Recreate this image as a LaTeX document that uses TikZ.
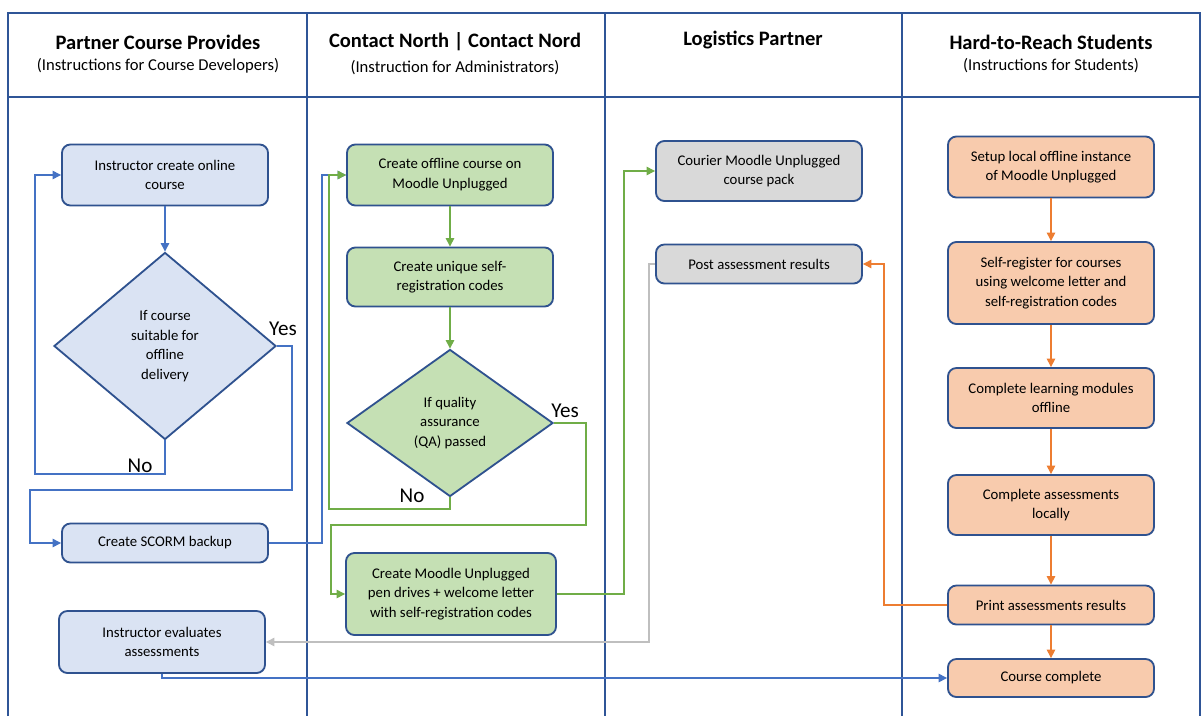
\documentclass[tikz,border=0pt]{standalone}
\usepackage{fontspec}
\setmainfont{Carlito}
\usetikzlibrary{arrows.meta,shapes.geometric,positioning}

\definecolor{laneblue}{HTML}{2F5597}
\definecolor{boxedge}{HTML}{2F528F}
\definecolor{fillblue}{HTML}{DAE3F3}
\definecolor{fillgreen}{HTML}{C5E0B4}
\definecolor{fillgrey}{HTML}{D9D9D9}
\definecolor{fillorange}{HTML}{F8CBAD}
\definecolor{lineblue}{HTML}{4472C4}
\definecolor{linegreen}{HTML}{70AD47}
\definecolor{linegrey}{HTML}{BFBFBF}
\definecolor{lineorange}{HTML}{ED7D31}

\tikzset{
  lane/.style={draw=laneblue, line width=1pt},
  title/.style={font=\fontsize{14.6}{17}\selectfont\bfseries},
  subtitle/.style={font=\fontsize{11.8}{14}\selectfont},
  stepbox/.style={draw=boxedge, line width=1.3pt, rounded corners=6pt,
    minimum width=5.15cm, align=center, inner sep=2pt,
    font=\fontsize{10.5}{14}\selectfont},
  decide/.style={diamond, draw=boxedge, line width=1.3pt, align=center,
    inner sep=0pt, font=\fontsize{10.5}{14}\selectfont},
  answer/.style={font=\fontsize{15}{17}\selectfont},
  link/.style={line width=0.9pt, -{Triangle[length=6pt,width=6pt]}},
  bluelink/.style={link, draw=lineblue, -{Triangle[length=6pt,width=6pt,fill=lineblue]}},
  greenlink/.style={link, draw=linegreen, -{Triangle[length=6pt,width=6pt,fill=linegreen]}},
  greylink/.style={link, draw=linegrey, -{Triangle[length=6pt,width=6pt,fill=linegrey]}},
  orangelink/.style={link, draw=lineorange, -{Triangle[length=6pt,width=6pt,fill=lineorange]}}
}

\begin{document}
\begin{tikzpicture}[x=0.025cm, y=-0.025cm]
  \useasboundingbox (0,0) rectangle (1202,716);

  % lanes
  \draw[lane] (8,716) |- (1200,13) -- (1200,716);
  \draw[lane] (8,97) -- (1200,97);
  \foreach \xx in {307,605,902}
    \draw[lane] (\xx,13) -- (\xx,716);

  % headers
  \node[title] (hdpartner) at (158,42) {Partner Course Provides};
  \node[subtitle] (sbpartner) at (158,66) {(Instructions for Course Developers)};
  \node[title] (hdcontact) at (455,42) {Contact North | Contact Nord};
  \node[subtitle] (sbcontact) at (455,68) {(Instruction for Administrators)};
  \node[title] (hdlogistics) at (753,40) {Logistics Partner};
  \node[title] (hdstudents) at (1051,42) {Hard-to-Reach Students};
  \node[subtitle] (sbstudents) at (1051,66) {(Instructions for Students)};

  % partner lane
  \node[stepbox, fill=fillblue, minimum height=1.525cm] (create) at (165,175) {Instructor create online\\course};
  \node[decide, fill=fillblue, minimum width=5.55cm, minimum height=4.675cm] (suitable) at (165,346) {If course\\suitable for\\offline\\delivery};
  \node[stepbox, fill=fillblue, minimum height=0.975cm] (scorm) at (165,543) {Create SCORM backup};
  \node[stepbox, fill=fillblue, minimum height=1.55cm] (evaluate) at (162,642) {Instructor evaluates\\assessments};

  % contact north lane
  \node[stepbox, fill=fillgreen, minimum height=1.525cm] (offline) at (450,175) {Create offline course on\\Moodle Unplugged};
  \node[stepbox, fill=fillgreen, minimum height=1.475cm] (codes) at (450,277) {Create unique self-\\registration codes};
  \node[decide, fill=fillgreen, minimum width=5.15cm, minimum height=3.675cm] (quality) at (450,423) {If quality\\assurance\\(QA) passed};
  \node[stepbox, fill=fillgreen, minimum width=5.25cm, minimum height=2.05cm] (pendrive) at (451,594) {Create Moodle Unplugged\\pen drives + welcome letter\\with self-registration codes};

  % logistics lane
  \node[stepbox, fill=fillgrey, minimum height=1.5cm] (courier) at (759,171) {Courier Moodle Unplugged\\course pack};
  \node[stepbox, fill=fillgrey, minimum height=0.975cm] (post) at (759,264) {Post assessment results};

  % students lane
  \node[stepbox, fill=fillorange, minimum height=1.525cm] (setup) at (1051,167) {Setup local offline instance\\of Moodle Unplugged};
  \node[stepbox, fill=fillorange, minimum height=2.05cm] (register) at (1051,283) {Self-register for courses\\using welcome letter and\\self-registration codes};
  \node[stepbox, fill=fillorange, minimum height=1.5cm] (modules) at (1051,398) {Complete learning modules\\offline};
  \node[stepbox, fill=fillorange, minimum height=1.5cm] (assess) at (1051,505) {Complete assessments\\locally};
  \node[stepbox, fill=fillorange, minimum height=0.975cm] (print) at (1051,605) {Print assessments results};
  \node[stepbox, fill=fillorange, minimum height=0.95cm] (complete) at (1051,678) {Course complete};

  % partner links
  \draw[bluelink] (create) -- (suitable);
  \draw[bluelink] (suitable.south) |- (35,474) |- (create.west);
  \draw[bluelink] (suitable.east) -| (292,490) -- (30,490) |- (scorm.west);
  \draw[bluelink] (scorm.east) -- (322,543) |- (offline.west);
  \node[answer] (nosuit) at (140,466) {No};
  \node[answer] (yessuit) at (283,329) {Yes};

  % contact north links
  \draw[greenlink] (offline) -- (codes);
  \draw[greenlink] (codes) -- (quality);
  \draw[greenlink] (quality.south) |- (329,509) |- (offline.west);
  \draw[greenlink] (quality.east) -| (586,525) -- (331,525) |- (pendrive.west);
  \draw[greenlink] (pendrive.east) -| (624,171) -- (courier.west);
  \node[answer] (noqa) at (412,496) {No};
  \node[answer] (yesqa) at (565,411) {Yes};

  % results links
  \draw[greylink] (post.west) -| (649,642) -- (evaluate.east);
  \draw[bluelink] (evaluate.south) |- (complete.west);

  % student links
  \foreach \from/\to in {setup/register, register/modules, modules/assess, assess/print, print/complete}
    \draw[orangelink] (\from) -- (\to);
  \draw[orangelink] (print.west) -| (884,264) -- (post.east);
\end{tikzpicture}
\end{document}
